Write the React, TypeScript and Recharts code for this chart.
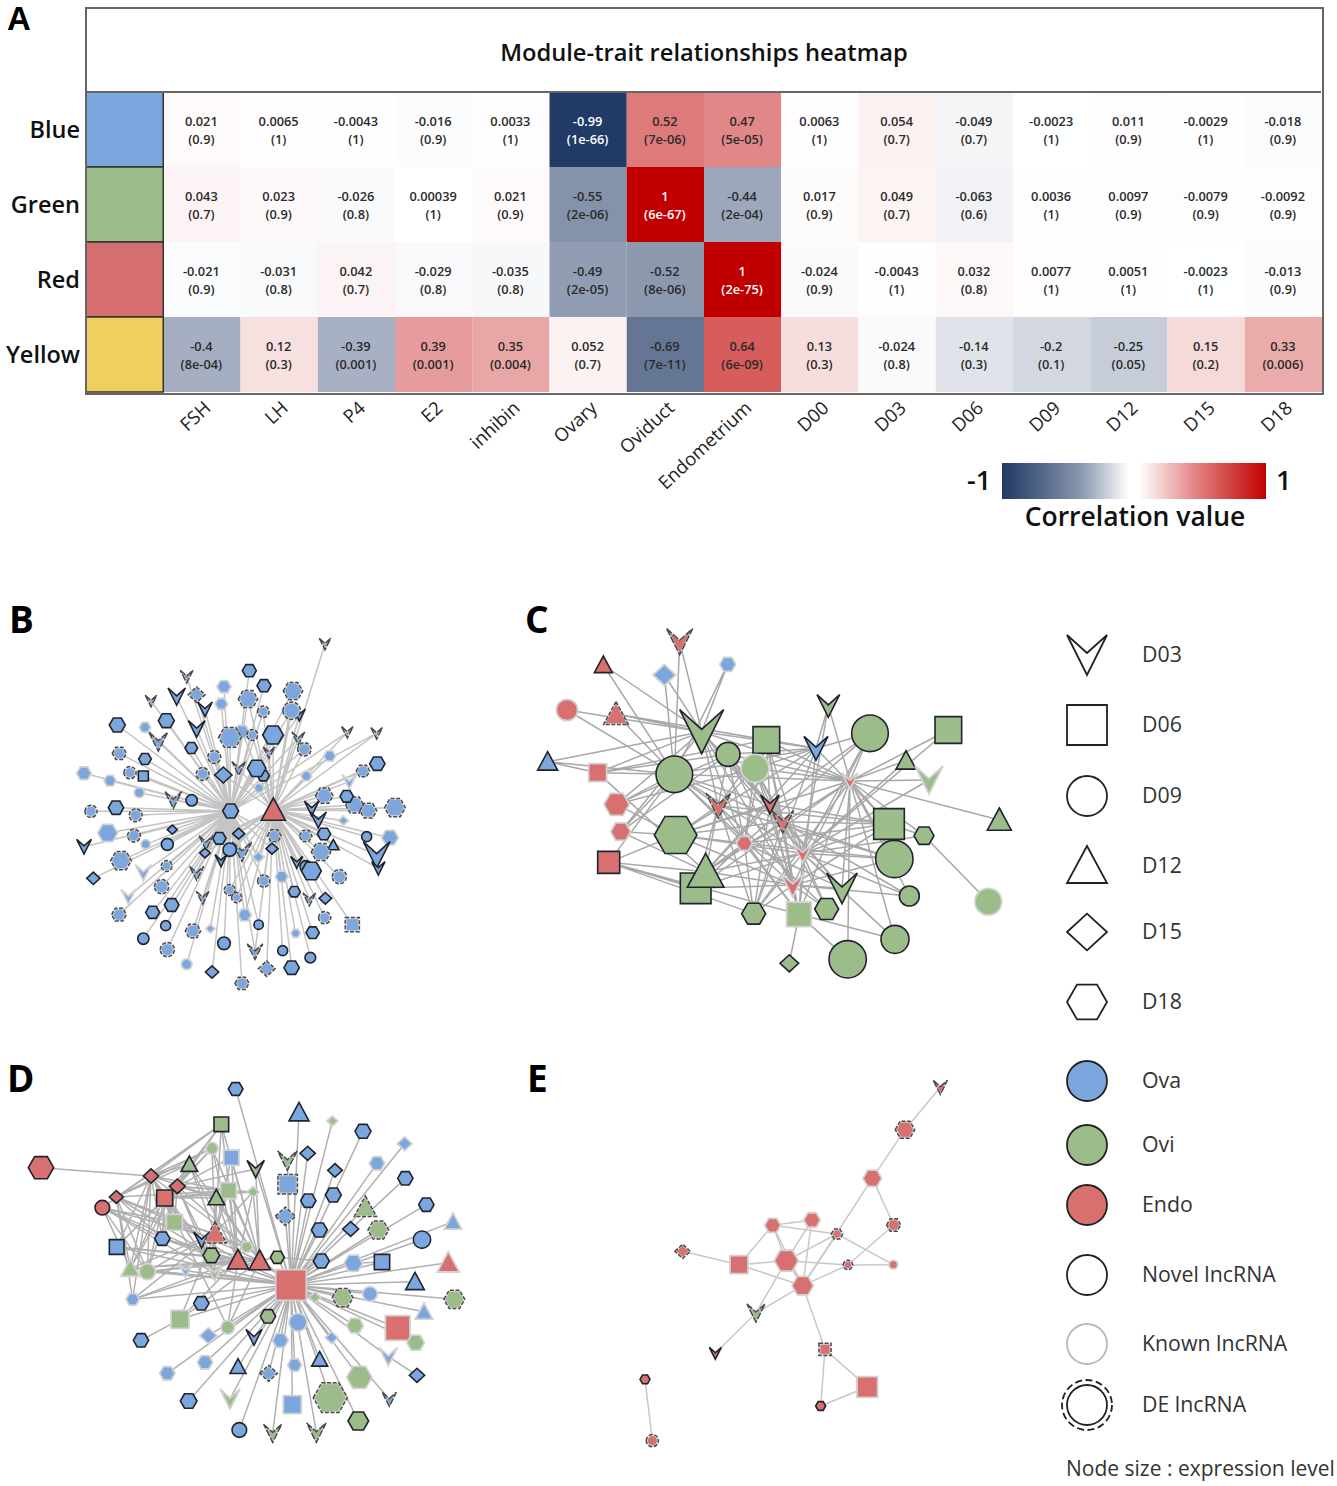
// App.tsx - module-trait heatmap and lncRNA networks
import { ScatterChart, Scatter, XAxis, YAxis } from 'recharts'

const FONT = '"Open Sans", sans-serif'

const traits = ['FSH', 'LH', 'P4', 'E2', 'inhibin', 'Ovary', 'Oviduct', 'Endometrium', 'D00', 'D03', 'D06', 'D09', 'D12', 'D15', 'D18']
const modules = ['Blue', 'Green', 'Red', 'Yellow']
const moduleColors = ['#7ba7de', '#9cbd8a', '#d56f6f', '#eecf5f']

const blueCorr = [0.021, 0.0065, -0.0043, -0.016, 0.0033, -0.99, 0.52, 0.47, 0.0063, 0.054, -0.049, -0.0023, 0.011, -0.0029, -0.018]
const greenCorr = [0.043, 0.023, -0.026, 0.00039, 0.021, -0.55, 1, -0.44, 0.017, 0.049, -0.063, 0.0036, 0.0097, -0.0079, -0.0092]
const redCorr = [-0.021, -0.031, 0.042, -0.029, -0.035, -0.49, -0.52, 1, -0.024, -0.0043, 0.032, 0.0077, 0.0051, -0.0023, -0.013]
const yellowCorr = [-0.4, 0.12, -0.39, 0.39, 0.35, 0.052, -0.69, 0.64, 0.13, -0.024, -0.14, -0.2, -0.25, 0.15, 0.33]

const blueP = ['0.9', '1', '1', '0.9', '1', '1e-66', '7e-06', '5e-05', '1', '0.7', '0.7', '1', '0.9', '1', '0.9']
const greenP = ['0.7', '0.9', '0.8', '1', '0.9', '2e-06', '6e-67', '2e-04', '0.9', '0.7', '0.6', '1', '0.9', '0.9', '0.9']
const redP = ['0.9', '0.8', '0.7', '0.8', '0.8', '2e-05', '8e-06', '2e-75', '0.9', '1', '0.8', '1', '1', '1', '0.9']
const yellowP = ['8e-04', '0.3', '0.001', '0.001', '0.004', '0.7', '7e-11', '6e-09', '0.3', '0.8', '0.3', '0.1', '0.05', '0.2', '0.006']

const corrRows = [blueCorr, greenCorr, redCorr, yellowCorr]
const pRows = [blueP, greenP, redP, yellowP]

// network nodes: x, y, stage, tissue, size, lncRNA class
type Row = [number, number, string, string, number, string]

// panel B: hubs, then the Ova nodes with the hubs each one links to (a = hexagon, b = triangle)
const bHubs: Row[] = [
  [512, 573, 'D18', 'Ova', 24, 'N'],
  [640, 570, 'D12', 'Endo', 36, 'N'],
]
const bLeaves: [number, number, string, number, string, string][] = [
  [795, 72, 'D03', 16, 'DE', 'b'], [380, 170, 'D03', 18, 'DE', 'a'], [568, 152, 'D18', 21, 'N', 'a'], [612, 197, 'D18', 21, 'N', 'a'],
  [492, 200, 'D18', 21, 'K', 'a'], [350, 230, 'D03', 26, 'N', 'a'], [410, 224, 'D15', 24, 'DE', 'a'], [564, 237, 'D18', 28, 'DE', 'ab'],
  [699, 213, 'D18', 28, 'DE', 'ab'], [273, 243, 'D03', 16, 'DE', 'a'], [484, 252, 'D18', 19, 'K', 'a'], [435, 268, 'D03', 22, 'N', 'a'],
  [610, 275, 'D09', 16, 'DE', 'ab'], [718, 285, 'D03', 18, 'N', 'ab'], [695, 272, 'D09', 25, 'DE', 'ab'], [172, 315, 'D18', 24, 'N', 'a'],
  [319, 302, 'D18', 24, 'N', 'a'], [255, 322, 'D18', 17, 'K', 'a'], [410, 327, 'D03', 25, 'N', 'a'], [546, 335, 'D18', 22, 'K', 'ab'],
  [510, 352, 'D18', 33, 'DE', 'a'], [577, 345, 'D09', 15, 'DE', 'ab'], [639, 345, 'D18', 31, 'N', 'ab'], [295, 365, 'D03', 27, 'DE', 'a'],
  [715, 355, 'D03', 18, 'DE', 'ab'], [862, 337, 'D03', 16, 'DE', 'ab'], [950, 340, 'D03', 16, 'DE', 'ab'], [394, 384, 'D18', 19, 'N', 'a'],
  [178, 400, 'D18', 20, 'DE', 'a'], [733, 388, 'D09', 19, 'DE', 'ab'], [627, 398, 'D03', 16, 'DE', 'ab'], [255, 417, 'D18', 19, 'N', 'a'],
  [463, 411, 'D09', 18, 'DE', 'a'], [809, 408, 'D18', 18, 'K', 'b'], [536, 445, 'D03', 19, 'DE', 'ab'], [610, 467, 'D18', 18, 'N', 'ab'],
  [590, 445, 'D18', 28, 'N', 'ab'], [952, 431, 'D18', 23, 'N', 'b'], [210, 458, 'D09', 17, 'DE', 'a'], [250, 468, 'D06', 15, 'N', 'a'],
  [428, 462, 'D09', 18, 'DE', 'a'], [490, 465, 'D15', 26, 'N', 'ab'], [739, 468, 'D18', 16, 'K', 'b'], [909, 453, 'D18', 19, 'DE', 'b'],
  [72, 460, 'D18', 22, 'K', 'a'], [150, 482, 'D18', 18, 'K', 'a'], [868, 485, 'D03', 22, 'K', 'b'], [597, 504, 'D18', 15, 'K', 'ab'],
  [238, 518, 'D09', 15, 'K', 'a'], [340, 540, 'D03', 24, 'DE', 'a'], [395, 541, 'D09', 17, 'N', 'a'], [793, 527, 'D18', 25, 'DE', 'b'],
  [884, 555, 'D18', 26, 'DE', 'b'], [860, 529, 'D18', 20, 'N', 'b'], [755, 565, 'D03', 22, 'N', 'b'], [93, 574, 'D09', 17, 'DE', 'a'],
  [168, 563, 'D18', 23, 'N', 'a'], [227, 586, 'D09', 18, 'DE', 'a'], [925, 572, 'D18', 24, 'DE', 'b'], [1005, 563, 'D18', 30, 'DE', 'b'],
  [775, 600, 'D03', 24, 'N', 'b'], [850, 602, 'D15', 15, 'K', 'b'], [143, 639, 'D18', 30, 'K', 'a'], [337, 629, 'D15', 15, 'N', 'a'],
  [222, 647, 'D09', 18, 'DE', 'a'], [478, 655, 'D18', 20, 'N', 'ab'], [536, 641, 'D15', 18, 'N', 'ab'], [643, 647, 'D18', 19, 'DE', 'ab'],
  [737, 648, 'D18', 18, 'DE', 'b'], [792, 642, 'D18', 20, 'N', 'b'], [920, 650, 'D09', 15, 'N', 'b'], [990, 653, 'D18', 25, 'K', 'b'],
  [438, 668, 'D03', 20, 'DE', 'ab'], [257, 673, 'D09', 14, 'K', 'a'], [322, 673, 'D09', 18, 'N', 'a'], [72, 680, 'D03', 22, 'N', 'a'],
  [820, 675, 'D12', 17, 'N', 'b'], [950, 705, 'D03', 40, 'N', 'b'], [783, 696, 'D18', 28, 'DE', 'b'], [435, 699, 'D15', 16, 'N', 'ab'],
  [546, 695, 'D03', 28, 'DE', 'ab'], [509, 689, 'D09', 20, 'N', 'ab'], [636, 686, 'D15', 18, 'N', 'ab'], [595, 711, 'D15', 18, 'K', 'ab'],
  [710, 727, 'D03', 18, 'N', 'b'], [738, 740, 'D09', 18, 'N', 'b'], [483, 722, 'D03', 18, 'N', 'ab'], [183, 722, 'D18', 30, 'DE', 'a'],
  [320, 738, 'D09', 15, 'DE', 'a'], [100, 775, 'D15', 20, 'N', 'a'], [754, 753, 'D18', 30, 'N', 'b'], [250, 758, 'D03', 24, 'K', 'a'],
  [955, 745, 'D03', 20, 'N', 'b'], [410, 760, 'D03', 20, 'DE', 'a'], [305, 800, 'D09', 20, 'DE', 'a'], [838, 770, 'D09', 20, 'DE', 'b'],
  [611, 783, 'D09', 17, 'DE', 'ab'], [665, 770, 'D18', 19, 'K', 'b'], [703, 815, 'D18', 18, 'N', 'b'], [205, 830, 'D03', 22, 'K', 'a'],
  [509, 810, 'D09', 15, 'DE', 'ab'], [530, 833, 'D09', 14, 'DE', 'ab'], [428, 833, 'D03', 18, 'DE', 'a'], [748, 838, 'D03', 18, 'DE', 'b'],
  [796, 835, 'D15', 19, 'N', 'b'], [335, 855, 'D18', 22, 'N', 'a'], [278, 877, 'D18', 21, 'N', 'a'], [177, 884, 'D18', 21, 'DE', 'a'],
  [554, 885, 'D18', 20, 'K', 'ab'], [794, 893, 'D09', 17, 'DE', 'b'], [877, 914, 'D06', 20, 'DE', 'b'], [596, 914, 'D09', 14, 'N', 'ab'],
  [317, 917, 'D09', 15, 'N', 'a'], [399, 933, 'D18', 22, 'DE', 'a'], [451, 926, 'D15', 14, 'K', 'a'], [707, 940, 'D18', 14, 'K', 'b'],
  [758, 938, 'D18', 20, 'N', 'b'], [250, 956, 'D09', 17, 'N', 'a'], [492, 970, 'D09', 19, 'N', 'a'], [322, 989, 'D09', 20, 'DE', 'a'],
  [585, 995, 'D03', 22, 'DE', 'ab'], [668, 992, 'D09', 15, 'N', 'b'], [751, 1013, 'D09', 16, 'N', 'b'], [380, 1033, 'D09', 16, 'K', 'a'],
  [456, 1056, 'D15', 20, 'N', 'a'], [620, 1046, 'D15', 24, 'DE', 'b'], [695, 1043, 'D18', 23, 'N', 'b'], [546, 1090, 'D18', 20, 'DE', 'a'],
]

const cNodes: Row[] = [
  [479, 65, 'D03', 'Endo', 38, 'DE'], [250, 135, 'D12', 'Endo', 27, 'N'], [433, 165, 'D15', 'Ova', 34, 'K'], [623, 133, 'D18', 'Ova', 24, 'K'],
  [141, 270, 'D09', 'Endo', 32, 'K'], [288, 282, 'D12', 'Endo', 36, 'DE'], [925, 258, 'D03', 'Ovi', 34, 'N'], [545, 335, 'D03', 'Ovi', 66, 'N'],
  [739, 360, 'D06', 'Ovi', 40, 'N'], [1050, 340, 'D09', 'Ovi', 55, 'N'], [1285, 330, 'D06', 'Ovi', 40, 'N'], [83, 425, 'D12', 'Ova', 30, 'N'],
  [888, 385, 'D03', 'Ova', 36, 'N'], [624, 403, 'D09', 'Ovi', 36, 'N'], [705, 445, 'D09', 'Ovi', 42, 'K'], [1158, 422, 'D12', 'Ovi', 30, 'N'],
  [233, 458, 'D06', 'Endo', 27, 'K'], [463, 463, 'D09', 'Ovi', 55, 'N'], [990, 483, 'D03', 'Endo', 24, 'K'], [1227, 480, 'D03', 'Ovi', 42, 'K'],
  [290, 553, 'D18', 'Endo', 38, 'K'], [595, 557, 'D03', 'Endo', 36, 'DE'], [750, 553, 'D03', 'Endo', 28, 'N'], [788, 605, 'D03', 'Endo', 32, 'DE'],
  [1438, 600, 'D12', 'Ovi', 36, 'N'], [1107, 612, 'D06', 'Ovi', 46, 'N'], [1212, 647, 'D18', 'Ovi', 30, 'N'], [302, 635, 'D18', 'Endo', 30, 'K'],
  [467, 645, 'D18', 'Ovi', 64, 'N'], [673, 670, 'D18', 'Endo', 24, 'K'], [848, 700, 'D03', 'Endo', 28, 'K'], [1123, 717, 'D09', 'Ovi', 56, 'N'],
  [266, 727, 'D06', 'Endo', 33, 'N'], [527, 805, 'D06', 'Ovi', 46, 'N'], [557, 755, 'D12', 'Ovi', 55, 'N'], [818, 795, 'D03', 'Endo', 36, 'K'],
  [966, 805, 'D03', 'Ovi', 46, 'N'], [1168, 828, 'D09', 'Ovi', 30, 'N'], [701, 881, 'D18', 'Ovi', 36, 'N'], [837, 883, 'D06', 'Ovi', 37, 'K'],
  [920, 867, 'D18', 'Ovi', 36, 'N'], [1405, 845, 'D09', 'Ovi', 40, 'K'], [1125, 958, 'D09', 'Ovi', 42, 'N'], [808, 1030, 'D15', 'Ovi', 28, 'N'],
  [983, 1018, 'D09', 'Ovi', 56, 'N'],
]
const cLinks: [number, number[]][] = [
  [18, [6, 9, 10, 15, 19, 17, 14, 8, 7, 13, 38, 39, 25, 26, 31, 37, 36, 44, 28, 34, 33, 42, 24]],
  [30, [6, 9, 10, 15, 19, 17, 14, 8, 7, 13, 28, 33, 34, 38, 39, 25, 31, 37, 36, 40, 42, 26]],
  [35, [17, 14, 8, 7, 13, 28, 33, 34, 38, 39, 25, 31, 36, 40, 37, 9]],
  [29, [7, 13, 14, 17, 28, 33, 34, 38, 25, 8, 36, 31, 39, 9]],
  [21, [7, 13, 14, 17, 28, 33, 34, 38, 39, 8, 25, 31, 40]],
  [22, [7, 8, 13, 14, 17, 28, 34, 38, 39, 9, 25, 36]],
  [23, [7, 8, 13, 14, 17, 28, 34, 38, 39, 25, 31, 36, 37, 40]],
  [0, [7, 17]], [1, [7, 17]], [2, [7, 17]], [3, [7, 17]], [4, [7, 17]], [5, [7, 17, 8, 12]],
  [11, [7, 17, 16]], [16, [7, 13, 17, 8, 34]], [20, [17, 7, 13, 14, 28]], [27, [17, 7, 28, 13, 34]],
  [32, [17, 28, 34, 33, 38, 39]], [12, [6, 7, 17, 28, 34, 38, 39, 13, 14, 8, 9, 25]],
  [26, [41, 25]], [39, [43, 44, 42]],
]

const dNodes: Row[] = [
  [677, 57, 'D18', 'Ova', 22, 'N'], [867, 127, 'D12', 'Ova', 30, 'N'], [967, 153, 'D15', 'Ovi', 16, 'K'], [1059, 184, 'D18', 'Ova', 24, 'N'],
  [634, 163, 'D06', 'Ovi', 22, 'N'], [1184, 221, 'D15', 'Ova', 22, 'K'], [606, 235, 'D09', 'Ovi', 18, 'K'], [664, 263, 'D06', 'Ova', 23, 'K'],
  [538, 283, 'D12', 'Ovi', 25, 'N'], [737, 297, 'D03', 'Ovi', 26, 'N'], [832, 272, 'D03', 'Ovi', 28, 'DE'], [893, 250, 'D15', 'Ova', 23, 'N'],
  [1101, 280, 'D18', 'Ova', 23, 'K'], [93, 293, 'D18', 'Endo', 38, 'N'], [423, 318, 'D15', 'Endo', 23, 'N'], [502, 349, 'D15', 'Endo', 24, 'N'],
  [975, 301, 'D15', 'Ova', 22, 'N'], [1186, 325, 'D18', 'Ova', 23, 'N'], [319, 381, 'D15', 'Endo', 21, 'N'], [833, 343, 'D06', 'Ova', 28, 'DE'],
  [655, 362, 'D06', 'Ovi', 24, 'K'], [729, 366, 'D15', 'Ovi', 18, 'K'], [464, 384, 'D06', 'Endo', 24, 'N'], [619, 383, 'D12', 'Ovi', 25, 'N'],
  [970, 375, 'D18', 'Ova', 24, 'N'], [895, 392, 'D18', 'Ova', 23, 'N'], [1249, 404, 'D18', 'Ova', 23, 'N'], [1066, 411, 'D12', 'Ovi', 32, 'DE'],
  [277, 413, 'D09', 'Endo', 22, 'N'], [826, 439, 'D15', 'Ova', 29, 'DE'], [493, 457, 'D06', 'Ovi', 24, 'K'], [575, 510, 'D03', 'Ova', 24, 'N'],
  [615, 490, 'D12', 'Endo', 33, 'DE'], [457, 506, 'D18', 'Ova', 23, 'N'], [928, 480, 'D18', 'Ova', 24, 'N'], [1022, 477, 'D15', 'Ova', 24, 'N'],
  [1105, 480, 'D18', 'Ovi', 30, 'DE'], [1329, 455, 'D12', 'Ova', 26, 'K'], [1236, 509, 'D09', 'Ova', 26, 'N'], [320, 531, 'D06', 'Ova', 22, 'N'],
  [710, 531, 'D18', 'Ovi', 18, 'K'], [604, 556, 'D18', 'Ovi', 25, 'N'], [684, 570, 'D12', 'Endo', 32, 'N'], [749, 572, 'D12', 'Endo', 32, 'N'],
  [802, 562, 'D18', 'Ovi', 21, 'N'], [934, 573, 'D18', 'Ova', 24, 'N'], [361, 595, 'D12', 'Ovi', 28, 'K'], [412, 605, 'D09', 'Ovi', 24, 'K'],
  [527, 602, 'D03', 'Ova', 20, 'K'], [614, 610, 'D03', 'Ovi', 22, 'K'], [1030, 580, 'D18', 'Ova', 28, 'K'], [1116, 576, 'D06', 'Ova', 23, 'N'],
  [1315, 578, 'D12', 'Endo', 33, 'K'], [1215, 635, 'D12', 'Ova', 28, 'N'], [843, 645, 'D06', 'Endo', 46, 'K'], [915, 682, 'D15', 'Ovi', 18, 'K'],
  [998, 683, 'D18', 'Ovi', 30, 'DE'], [1080, 672, 'D09', 'Ova', 22, 'K'], [1333, 688, 'D18', 'Ovi', 30, 'DE'], [368, 688, 'D18', 'Ova', 20, 'K'],
  [574, 700, 'D18', 'Ova', 23, 'N'], [1242, 725, 'D12', 'Ova', 26, 'K'], [510, 748, 'D06', 'Ovi', 27, 'K'], [774, 739, 'D18', 'Ovi', 23, 'N'],
  [864, 757, 'D09', 'Ova', 27, 'K'], [653, 772, 'D09', 'Ovi', 20, 'K'], [595, 797, 'D15', 'Ova', 26, 'K'], [732, 802, 'D03', 'Ova', 24, 'N'],
  [1035, 767, 'D18', 'Ovi', 25, 'K'], [1163, 774, 'D06', 'Endo', 37, 'K'], [811, 811, 'D18', 'Ova', 24, 'K'], [393, 811, 'D18', 'Ova', 23, 'N'],
  [1217, 818, 'D18', 'Ovi', 26, 'K'], [965, 803, 'D15', 'Ova', 19, 'K'], [1135, 860, 'D03', 'Ova', 27, 'K'], [585, 877, 'D18', 'Ova', 23, 'K'],
  [472, 910, 'D18', 'Ova', 23, 'K'], [684, 890, 'D12', 'Ova', 24, 'N'], [776, 910, 'D15', 'Ova', 25, 'DE'], [854, 885, 'D18', 'Ova', 21, 'K'],
  [929, 868, 'D12', 'Ova', 24, 'N'], [1221, 916, 'D15', 'Ova', 23, 'N'], [1048, 922, 'D18', 'Ovi', 38, 'K'], [961, 983, 'D18', 'Ovi', 50, 'DE'],
  [1138, 988, 'D03', 'Ova', 20, 'DE'], [536, 993, 'D18', 'Ova', 25, 'N'], [660, 987, 'D03', 'Ovi', 30, 'K'], [847, 1004, 'D06', 'Ova', 27, 'K'],
  [1045, 1053, 'D18', 'Ovi', 31, 'N'], [688, 1080, 'D09', 'Ova', 22, 'N'], [788, 1090, 'D03', 'Ovi', 26, 'DE'], [919, 1088, 'D03', 'Ovi', 28, 'DE'],
]
const dLinks: [number, number[]][] = [
  [54, [0, 1, 2, 3, 5, 9, 10, 11, 12, 16, 17, 19, 24, 25, 26, 27, 29, 34, 35, 36, 37, 38, 40, 41, 42, 43, 44, 45, 46, 47, 48, 49, 50, 51, 52, 53, 55, 56, 57, 58, 59, 60, 61, 62, 63, 64, 65, 66, 67, 68, 69, 70, 72, 73, 74, 75, 76, 77, 78, 79, 80, 82, 83, 84, 85, 86, 87, 88, 89, 90, 91, 33, 39]],
  [14, [13, 4, 6, 8, 20, 23, 30, 41, 46, 47, 40, 49, 59]],
  [15, [4, 6, 7, 8, 20, 21, 23, 30, 41, 46, 47, 49, 40, 9]],
  [22, [4, 6, 8, 20, 23, 30, 41, 46, 47, 21, 49, 65]],
  [18, [4, 6, 8, 20, 30, 41, 46, 47, 59, 40]],
  [28, [4, 30, 41, 46, 47, 49, 40]],
  [32, [4, 6, 7, 8, 20, 21, 23, 30, 46, 47, 49, 59, 41, 62]],
  [42, [4, 6, 7, 8, 20, 21, 23, 30, 46, 47, 59, 62, 65, 39, 33]],
  [43, [4, 6, 7, 8, 20, 21, 23, 30, 46, 47, 59, 62, 65, 44, 9, 39, 33]],
  [39, [14, 15, 22]], [33, [14, 15, 22, 18, 28]],
  [74, [81]], [71, [62]], [44, [45]], [50, [51]],
]

const eNodes: Row[] = [
  [961, 52, 'D03', 'Endo', 20, 'DE'], [855, 179, 'D18', 'Endo', 28, 'DE'], [757, 325, 'D18', 'Endo', 28, 'K'], [458, 466, 'D18', 'Endo', 24, 'K'],
  [576, 450, 'D18', 'Endo', 25, 'K'], [821, 465, 'D18', 'Endo', 20, 'DE'], [651, 492, 'D18', 'Endo', 16, 'DE'], [188, 544, 'D15', 'Endo', 22, 'DE'],
  [357, 584, 'D06', 'Endo', 27, 'K'], [499, 572, 'D18', 'Endo', 36, 'K'], [684, 585, 'D09', 'Endo', 13, 'DE'], [820, 584, 'D09', 'Endo', 13, 'K'],
  [548, 647, 'D18', 'Endo', 32, 'K'], [408, 729, 'D03', 'Ovi', 26, 'DE'], [286, 850, 'D03', 'Endo', 18, 'N'], [615, 838, 'D06', 'Endo', 17, 'DE'],
  [742, 951, 'D06', 'Endo', 31, 'K'], [602, 1008, 'D18', 'Endo', 15, 'N'], [75, 928, 'D18', 'Endo', 15, 'N'], [97, 1112, 'D09', 'Endo', 17, 'DE'],
]
const eLinks: [number, number[]][] = [
  [1, [0, 2]], [2, [5, 12]], [5, [10]], [3, [4, 6, 8, 9, 12]], [4, [9, 12]], [6, [9, 11, 12]], [8, [7, 9, 12]],
  [9, [10, 13, 12]], [10, [11, 12]], [13, [12, 14]], [15, [12, 16, 17]], [16, [17]], [18, [19]],
]

const legendLabels = ['D03', 'D06', 'D09', 'D12', 'D15', 'D18', 'Ova', 'Ovi', 'Endo', 'Novel lncRNA', 'Known lncRNA', 'DE lncRNA']
const legendRowY = [655, 725, 796, 866, 932, 1002, 1081, 1145, 1205, 1275, 1344, 1405]
const legendStages = ['D03', 'D06', 'D09', 'D12', 'D15', 'D18', 'D09', 'D09', 'D09', 'D09', 'D09', 'D09']
const legendTissues = ['none', 'none', 'none', 'none', 'none', 'none', 'Ova', 'Ovi', 'Endo', 'none', 'none', 'none']
const legendClasses = ['N', 'N', 'N', 'N', 'N', 'N', 'N', 'N', 'N', 'N', 'K', 'DE']

const tissueFill: Record<string, string> = { Ova: '#7ba7de', Ovi: '#9cbd8a', Endo: '#d87070', none: '#ffffff' }

const toNode = (r: Row) => ({ x: r[0], y: r[1], stage: r[2], tissue: r[3], size: r[4], kind: r[5] })

const bNodes = [...bHubs.map(toNode), ...bLeaves.map((l) => ({ x: l[0], y: l[1], stage: l[2], tissue: 'Ova', size: l[3], kind: l[4], link: l[5] }))]
const bStars = bHubs.map((_, h) => [h, bNodes.flatMap((n, i) => (i > 1 && (n as any).link.includes('ab'[h]) ? [i] : []))] as [number, number[]])

function shapePath(stage: string, r: number) {
  switch (stage) {
    case 'D03':
      return `M${-r},${-r}L0,${-0.1 * r}L${r},${-r}L0,${r}Z`
    case 'D06':
      return `M${-r},${-r}H${r}V${r}H${-r}Z`
    case 'D12':
      return `M0,${-r}L${r},${0.85 * r}H${-r}Z`
    case 'D15':
      return `M${-r},0L0,${-0.92 * r}L${r},0L0,${0.92 * r}Z`
    case 'D18':
      return `M${-r},0L${-0.5 * r},${-0.87 * r}H${0.5 * r}L${r},0L${0.5 * r},${0.87 * r}H${-0.5 * r}Z`
    default:
      return `M${-r},0A${r},${r} 0 1 1 ${r},0A${r},${r} 0 1 1 ${-r},0Z`
  }
}

// draws one network node at the point the scales give it
function NetworkNode({ cx, cy, payload, unit }: any) {
  const r = payload.size * unit
  const { stage, tissue, kind } = payload
  const fill = tissueFill[tissue]
  if (kind === 'DE') {
    return (
      <g transform={`translate(${cx},${cy})`}>
        <path d={shapePath(stage, r - 0.6)} fill={fill} stroke="#cfcfcf" strokeWidth={1.2} />
        <path d={shapePath(stage, r + 0.4)} fill="none" stroke="#4a4a4a" strokeWidth={1.5} strokeDasharray={stage === 'D03' ? '7 1.6' : '4 1.6'} />
      </g>
    )
  }
  if (kind === 'K') {
    return <path transform={`translate(${cx},${cy})`} d={shapePath(stage, r)} fill={fill} stroke="#d2d2d2" strokeWidth={1.8} />
  }
  return <path transform={`translate(${cx},${cy})`} d={shapePath(stage, r)} fill={fill} stroke="#20242c" strokeWidth={1.6} />
}

function LegendRow({ cx, cy, payload }: any) {
  const isDe = payload.kind === 'DE'
  return (
    <g>
      <path
        transform={`translate(${cx},${cy})`}
        d={shapePath(payload.stage, 20)}
        fill={tissueFill[payload.tissue]}
        stroke={payload.kind === 'K' ? '#b8b8b8' : '#222'}
        strokeWidth={1.8}
      />
      {isDe && <circle cx={cx} cy={cy} r={25} fill="none" stroke="#222" strokeWidth={1.8} strokeDasharray="7 3.5" />}
      <text x={cx + 55} y={cy - 2} dominantBaseline="central" fontFamily={FONT} fontSize={21.3} fill="#333">
        {payload.label}
      </text>
    </g>
  )
}

function Network({ left, top, width, height, nodes, links, edge }: any) {
  return (
    <div style={{ position: 'absolute', left, top, filter: 'blur(0.4px)' }}>
      <ScatterChart width={width} height={height} margin={{ top: 0, right: 0, bottom: 0, left: 0 }}>
        <XAxis type="number" dataKey="x" domain={[0, width * 3]} hide />
        <YAxis type="number" dataKey="y" domain={[0, height * 3]} reversed hide />
        {links.map(([hub, leaves]: [number, number[]]) => (
          <Scatter
            key={hub}
            data={leaves.flatMap((l) => [nodes[hub], nodes[l]])}
            line={{ stroke: edge, strokeWidth: 1.5 }}
            shape={() => <g />}
            isAnimationActive={false}
          />
        ))}
        <Scatter data={nodes} shape={(p: any) => <NetworkNode {...p} unit={1 / 3} />} isAnimationActive={false} />
      </ScatterChart>
    </div>
  )
}

function cellFill(v: number) {
  const top = v < 0 ? [31, 56, 100] : [192, 0, 0]
  const t = Math.abs(v)
  return `rgb(${top.map((c) => Math.round(255 + (c - 255) * t)).join(',')})`
}

const CELL_W = 1236 / 16
const CELL_H = 75

const cellData = modules.flatMap((_, row) =>
  traits.map((_t, col) => ({ x: col, y: row, corr: corrRows[row][col], p: pRows[row][col] })),
)
const swatchData = modules.map((m, row) => ({ x: -1, y: row, color: moduleColors[row], name: m }))

function HeatCell({ cx, cy, payload }: any) {
  const color = Math.abs(payload.corr) > 0.9 ? '#fff' : '#2b2b2b'
  return (
    <g>
      <rect x={cx - CELL_W / 2} y={cy - CELL_H / 2} width={CELL_W} height={CELL_H} fill={cellFill(payload.corr)} />
      <text x={cx - 0.5} y={cy - 9} textAnchor="middle" dominantBaseline="central" fontFamily={FONT} fontWeight={600} fontSize={12.8} fill={color}>
        {String(payload.corr)}
      </text>
      <text x={cx - 0.5} y={cy + 9} textAnchor="middle" dominantBaseline="central" fontFamily={FONT} fontWeight={600} fontSize={12.8} fill={color}>
        {`(${payload.p})`}
      </text>
    </g>
  )
}

function Swatch({ cx, cy, payload }: any) {
  return <rect x={cx - CELL_W / 2} y={cy - CELL_H / 2} width={CELL_W} height={CELL_H} fill={payload.color} stroke="#333" strokeWidth={1.5} />
}

function TraitTick({ x, y, payload }: any) {
  return (
    <text
      transform={`translate(${x + 5},${y + 4}) rotate(-43)`}
      textAnchor="end"
      dominantBaseline="central"
      fontFamily={FONT}
      fontWeight={500}
      fontSize={18.5}
      fill="#222"
    >
      {traits[payload.value]}
    </text>
  )
}

function ModuleTick({ x, y, payload }: any) {
  return (
    <text x={x + 2} y={y - 1} textAnchor="end" dominantBaseline="central" fontFamily={FONT} fontWeight={600} fontSize={23.5} fill="#111">
      {modules[payload.value]}
    </text>
  )
}

function Heatmap() {
  return (
    <div style={{ position: 'absolute', left: 0, top: 0 }}>
      <ScatterChart width={1337} height={560} margin={{ top: 92, right: 15, bottom: 0, left: 0 }}>
        <XAxis
          type="number"
          dataKey="x"
          domain={[-1.5, 14.5]}
          ticks={traits.map((_, i) => i)}
          interval={0}
          height={168}
          tick={<TraitTick />}
          tickLine={false}
          axisLine={false}
        />
        <YAxis
          type="number"
          dataKey="y"
          domain={[-0.5, 3.5]}
          reversed
          ticks={modules.map((_, i) => i)}
          interval={0}
          width={86}
          tick={<ModuleTick />}
          tickLine={false}
          axisLine={false}
        />
        <Scatter data={cellData} shape={(p: any) => <HeatCell {...p} />} isAnimationActive={false} />
        <Scatter data={swatchData} shape={(p: any) => <Swatch {...p} />} isAnimationActive={false} />
      </ScatterChart>
    </div>
  )
}

function Legend() {
  const rows = legendLabels.map((label, i) => ({
    x: 1087,
    y: legendRowY[i],
    label,
    stage: legendStages[i],
    tissue: legendTissues[i],
    kind: legendClasses[i],
  }))
  return (
    <div style={{ position: 'absolute', left: 1040, top: 620 }}>
      <ScatterChart width={297} height={866} margin={{ top: 0, right: 0, bottom: 0, left: 0 }}>
        <XAxis type="number" dataKey="x" domain={[1040, 1337]} hide />
        <YAxis type="number" dataKey="y" domain={[620, 1486]} reversed hide />
        <Scatter data={rows} shape={(p: any) => <LegendRow {...p} />} isAnimationActive={false} />
      </ScatterChart>
    </div>
  )
}

const panelLetters: [string, number, number][] = [['B', 9, 604], ['C', 525, 604], ['D', 7, 1063], ['E', 527, 1063]]

export default function App() {
  const plain = { position: 'absolute', fontFamily: FONT, color: '#111', whiteSpace: 'nowrap' } as const
  return (
    <div style={{ position: 'absolute', left: 0, top: 0, width: 1337, height: 1486, background: '#fff', overflow: 'hidden' }}>
      <Heatmap />
      <div style={{ position: 'absolute', left: 85, top: 7, width: 1235, height: 384, border: '2px solid #666' }} />
      <div style={{ position: 'absolute', left: 86, top: 91, width: 1235, height: 2, background: '#666' }} />
      <div style={{ ...plain, left: 86, top: 34, width: 1236, textAlign: 'center', fontSize: 23.7, fontWeight: 600, lineHeight: '36px' }}>
        Module-trait relationships heatmap
      </div>

      <div style={{ position: 'absolute', left: 1002, top: 463, width: 264, height: 36, background: 'linear-gradient(90deg,#1f3864 0%,#8a97b0 30%,#ffffff 48%,#ffffff 52%,#e58a8a 72%,#c00000 100%)' }} />
      <div style={{ ...plain, left: 967, top: 462, fontSize: 27, fontWeight: 600, lineHeight: '36px' }}>-1</div>
      <div style={{ ...plain, left: 1276, top: 462, fontSize: 27, fontWeight: 600, lineHeight: '36px' }}>1</div>
      <div style={{ ...plain, left: 1002, top: 498, width: 266, textAlign: 'center', fontSize: 26.5, fontWeight: 600, lineHeight: '36px' }}>Correlation value</div>

      {/* A sits against the page top, so it uses a font with a shorter line box */}
      <div style={{ ...plain, left: 7, top: 0, fontFamily: '"Liberation Sans", sans-serif', fontSize: 33, fontWeight: 700, lineHeight: 'normal', color: '#000' }}>A</div>
      {panelLetters.map(([t, x, y]) => (
        <div key={t} style={{ ...plain, left: x, top: y, fontSize: 37, fontWeight: 700, lineHeight: '30px', color: '#000' }}>{t}</div>
      ))}

      <Network left={60} top={620} width={360} height={380} nodes={bNodes} links={bStars} edge="#c4c4c4" />
      <Network left={520} top={620} width={500} height={370} nodes={cNodes.map(toNode)} links={cLinks} edge="#a8a8a8" />
      <Network left={10} top={1070} width={470} height={380} nodes={dNodes.map(toNode)} links={dLinks} edge="#b0b0b0" />
      <Network left={620} top={1070} width={340} height={390} nodes={eNodes.map(toNode)} links={eLinks} edge="#c8c8c8" />

      <Legend />
      <div style={{ ...plain, left: 1066, top: 1452, fontSize: 21, lineHeight: '32px', color: '#333' }}>Node size : expression level</div>
    </div>
  )
}
